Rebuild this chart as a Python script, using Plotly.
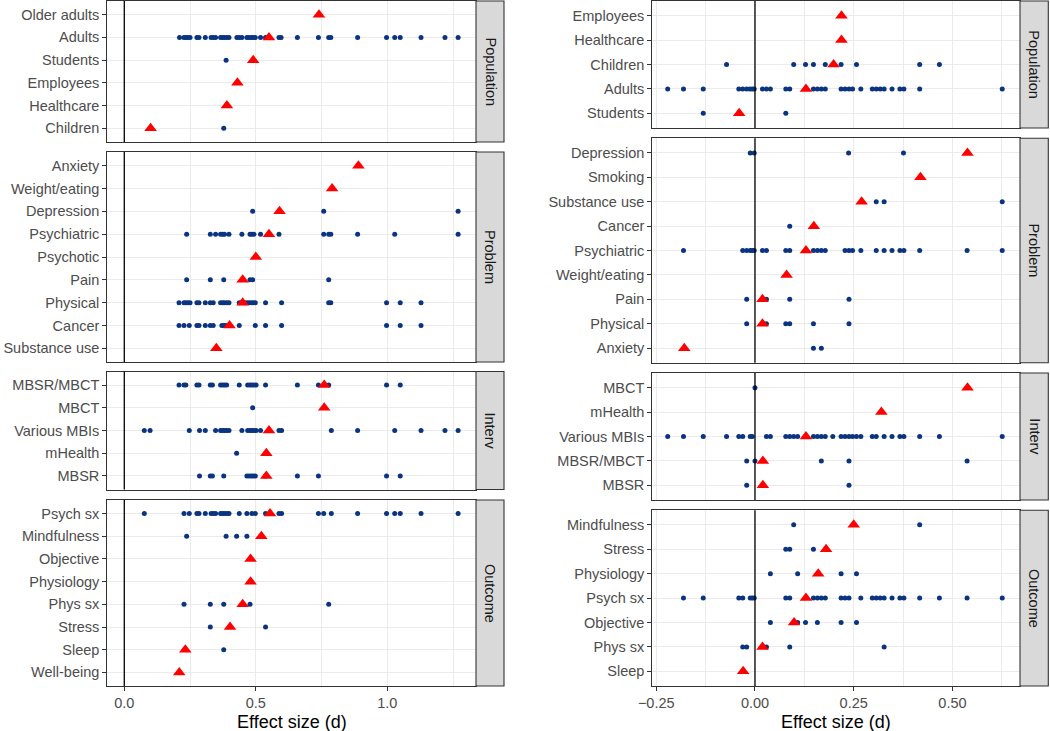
import plotly.graph_objects as go

# ---------------- DATA ----------------
# Left column (first analysis)
L_POP_CATS = ["Older adults", "Adults", "Students", "Employees", "Healthcare", "Children"]
L_POP_TRI = [0.74, 0.55, 0.49, 0.43, 0.39, 0.10]
L_POP_DOTS = {
    "Adults": [0.21, 0.227, 0.234, 0.242, 0.25, 0.276, 0.284, 0.308, 0.33, 0.338, 0.347, 0.366,
               0.374, 0.381, 0.39, 0.398, 0.428, 0.437, 0.447, 0.466, 0.474, 0.483, 0.49, 0.498,
               0.518, 0.537, 0.588, 0.596, 0.658, 0.738, 0.777, 0.785, 0.887, 0.997, 1.028, 1.049,
               1.128, 1.219, 1.269],
    "Students": [0.387],
    "Children": [0.378],
}

L_PROB_CATS = ["Anxiety", "Weight/eating", "Depression", "Psychiatric", "Psychotic", "Pain",
               "Physical", "Cancer", "Substance use"]
L_PROB_TRI = [0.89, 0.79, 0.59, 0.55, 0.50, 0.45, 0.45, 0.40, 0.35]
L_PROB_DOTS = {
    "Depression": [0.488, 0.758, 1.269],
    "Psychiatric": [0.237, 0.327, 0.347, 0.366, 0.374, 0.381, 0.398, 0.447, 0.478, 0.485, 0.493,
                    0.518, 0.588, 0.758, 0.777, 0.785, 0.887, 1.028, 1.269],
    "Pain": [0.237, 0.327, 0.378, 0.478, 0.488, 0.777],
    "Physical": [0.208, 0.227, 0.234, 0.242, 0.25, 0.276, 0.284, 0.308, 0.327, 0.338, 0.366, 0.374,
                 0.381, 0.39, 0.398, 0.437, 0.447, 0.456, 0.466, 0.474, 0.483, 0.49, 0.498, 0.537,
                 0.598, 0.777, 0.785, 0.997, 1.049, 1.128],
    "Cancer": [0.208, 0.227, 0.247, 0.276, 0.284, 0.308, 0.327, 0.338, 0.371, 0.379, 0.387, 0.437,
               0.498, 0.537, 0.598, 0.997, 1.049, 1.128],
}

L_INT_CATS = ["MBSR/MBCT", "MBCT", "Various MBIs", "mHealth", "MBSR"]
L_INT_TRI = [0.76, 0.76, 0.55, 0.54, 0.54]
L_INT_DOTS = {
    "MBSR/MBCT": [0.208, 0.227, 0.234, 0.276, 0.284, 0.327, 0.335, 0.366, 0.374, 0.381, 0.389,
                  0.437, 0.469, 0.478, 0.485, 0.493, 0.501, 0.537, 0.658, 0.738, 0.777, 0.997, 1.049],
    "MBCT": [0.488],
    "Various MBIs": [0.076, 0.098, 0.247, 0.286, 0.308, 0.347, 0.366, 0.374, 0.381, 0.389, 0.398,
                     0.447, 0.469, 0.478, 0.485, 0.493, 0.501, 0.518, 0.588, 0.598, 0.787, 0.887,
                     1.028, 1.128, 1.219, 1.269],
    "mHealth": [0.427],
    "MBSR": [0.286, 0.327, 0.335, 0.378, 0.466, 0.474, 0.483, 0.49, 0.498, 0.537, 0.658, 0.738,
             0.997, 1.049],
}

L_OUT_CATS = ["Psych sx", "Mindfulness", "Objective", "Physiology", "Phys sx", "Stress", "Sleep",
              "Well-being"]
L_OUT_TRI = [0.554, 0.521, 0.48, 0.48, 0.45, 0.402, 0.232, 0.209]
L_OUT_DOTS = {
    "Psych sx": [0.076, 0.227, 0.247, 0.276, 0.284, 0.308, 0.33, 0.338, 0.347, 0.366, 0.374, 0.381,
                 0.39, 0.398, 0.437, 0.466, 0.485, 0.498, 0.537, 0.588, 0.598, 0.738, 0.758, 0.787,
                 0.887, 0.997, 1.028, 1.049, 1.128, 1.269],
    "Mindfulness": [0.237, 0.387, 0.427, 0.466],
    "Phys sx": [0.227, 0.327, 0.378, 0.478, 0.777],
    "Stress": [0.327, 0.537],
    "Sleep": [0.378],
}

# Right column (second analysis)
R_POP_CATS = ["Employees", "Healthcare", "Children", "Adults", "Students"]
R_POP_TRI = [0.219, 0.219, 0.199, 0.129, -0.040]
R_POP_DOTS = {
    "Children": [-0.072, 0.098, 0.128, 0.148, 0.178, 0.218, 0.257, 0.417, 0.467],
    "Adults": [-0.221, -0.181, -0.131, -0.041, -0.031, -0.021, -0.013, -0.007, -0.002, 0.019, 0.029,
               0.039, 0.078, 0.088, 0.148, 0.158, 0.168, 0.178, 0.218, 0.228, 0.238, 0.247, 0.268,
               0.297, 0.307, 0.317, 0.327, 0.347, 0.367, 0.377, 0.417, 0.626],
    "Students": [-0.131, 0.078],
}

R_PROB_CATS = ["Depression", "Smoking", "Substance use", "Cancer", "Psychiatric", "Weight/eating",
               "Pain", "Physical", "Anxiety"]
R_PROB_TRI = [0.538, 0.419, 0.270, 0.149, 0.129, 0.080, 0.019, 0.019, -0.179]
R_PROB_DOTS = {
    "Depression": [-0.012, -0.002, 0.237, 0.376],
    "Substance use": [0.307, 0.327, 0.626],
    "Cancer": [0.088],
    "Psychiatric": [-0.181, -0.031, -0.021, -0.012, -0.007, -0.002, 0.019, 0.029, 0.078, 0.088,
                    0.148, 0.158, 0.168, 0.178, 0.228, 0.238, 0.247, 0.268, 0.307, 0.327, 0.347,
                    0.367, 0.377, 0.417, 0.537, 0.626],
    "Pain": [-0.021, 0.029, 0.088, 0.238],
    "Physical": [-0.021, 0.029, 0.078, 0.088, 0.148, 0.238],
    "Anxiety": [0.148, 0.168],
}

R_INT_CATS = ["MBCT", "mHealth", "Various MBIs", "MBSR/MBCT", "MBSR"]
R_INT_TRI = [0.538, 0.320, 0.129, 0.020, 0.020]
R_INT_DOTS = {
    "MBCT": [0.0],
    "Various MBIs": [-0.221, -0.181, -0.131, -0.072, -0.041, -0.031, -0.012, -0.007, 0.029, 0.039,
                     0.078, 0.088, 0.098, 0.108, 0.148, 0.158, 0.168, 0.178, 0.197, 0.218, 0.228,
                     0.238, 0.247, 0.257, 0.268, 0.297, 0.307, 0.327, 0.347, 0.367, 0.377, 0.417,
                     0.467, 0.626],
    "MBSR/MBCT": [-0.021, 0.0, 0.168, 0.238, 0.537],
    "MBSR": [-0.021, 0.238],
}

R_OUT_CATS = ["Mindfulness", "Stress", "Physiology", "Psych sx", "Objective", "Phys sx", "Sleep"]
R_OUT_TRI = [0.250, 0.180, 0.160, 0.129, 0.099, 0.019, -0.030]
R_OUT_DOTS = {
    "Mindfulness": [0.098, 0.417],
    "Stress": [0.078, 0.088, 0.148],
    "Physiology": [0.039, 0.108, 0.218, 0.257],
    "Psych sx": [-0.181, -0.131, -0.041, -0.031, -0.012, -0.007, -0.002, 0.078, 0.088, 0.148, 0.158,
                 0.168, 0.178, 0.218, 0.228, 0.238, 0.268, 0.297, 0.307, 0.317, 0.327, 0.347, 0.367,
                 0.377, 0.417, 0.467, 0.537, 0.626],
    "Objective": [0.039, 0.108, 0.128, 0.158, 0.218, 0.257],
    "Phys sx": [-0.031, -0.021, 0.029, 0.088, 0.327],
}

STRIP_LABELS = ["Population", "Problem", "Interv", "Outcome"]
L_TICKVALS = [0.0, 0.5, 1.0]
L_TICKTEXT = ["0.0", "0.5", "1.0"]
R_TICKVALS = [-0.25, 0.0, 0.25, 0.5]
R_TICKTEXT = ["\u22120.25", "0.00", "0.25", "0.50"]
X_TITLE = "Effect size (d)"

# ---------------- LAYOUT GEOMETRY ----------------
W, H = 1050, 731
FONT = "Liberation Sans, Arial, Helvetica, sans-serif"
TICK_SIZE = 14.5
DOT_COLOR = "#0B3480"
TRI_COLOR = "#FF0000"
BORDER = "#333333"
GRID = "#EBEBEB"


def fx(px):
    return px / W


def fy(py):
    return 1 - py / H


LEFT = dict(x0=107.3, x1=476.0, s0=476.0, s1=504.0, rng=[-0.0646, 1.337],
            tv=L_TICKVALS, tt=L_TICKTEXT, dtick=0.5, tick0=0,
            rows=[(1, 142), (152, 362), (371.5, 489.5), (500, 686)])
RIGHT = dict(x0=652.3, x1=1020.0, s0=1020.0, s1=1048.3, rng=[-0.26, 0.671],
             tv=R_TICKVALS, tt=R_TICKTEXT, dtick=0.25, tick0=0,
             rows=[(1, 128), (138.3, 362.8), (373, 500), (510.2, 686)])

panels = [
    (LEFT, 0, L_POP_CATS, L_POP_TRI, L_POP_DOTS),
    (LEFT, 1, L_PROB_CATS, L_PROB_TRI, L_PROB_DOTS),
    (LEFT, 2, L_INT_CATS, L_INT_TRI, L_INT_DOTS),
    (LEFT, 3, L_OUT_CATS, L_OUT_TRI, L_OUT_DOTS),
    (RIGHT, 0, R_POP_CATS, R_POP_TRI, R_POP_DOTS),
    (RIGHT, 1, R_PROB_CATS, R_PROB_TRI, R_PROB_DOTS),
    (RIGHT, 2, R_INT_CATS, R_INT_TRI, R_INT_DOTS),
    (RIGHT, 3, R_OUT_CATS, R_OUT_TRI, R_OUT_DOTS),
]

fig = go.Figure()
layout = dict(
    width=W, height=H, autosize=False, margin=dict(l=0, r=0, t=0, b=0, pad=0),
    paper_bgcolor="white", plot_bgcolor="white", showlegend=False,
    font=dict(family=FONT, size=TICK_SIZE, color="#4D4D4D"),
    shapes=[], annotations=[],
)

for i, (side, r, cats, tri, dots) in enumerate(panels, start=1):
    xa = "x" if i == 1 else f"x{i}"
    ya = "y" if i == 1 else f"y{i}"
    xkey = "xaxis" if i == 1 else f"xaxis{i}"
    ykey = "yaxis" if i == 1 else f"yaxis{i}"
    top, bot = side["rows"][r]
    is_bottom = (r == 3)

    # dots
    dx, dy = [], []
    for c in cats:
        for v in dots.get(c, []):
            dx.append(v)
            dy.append(c)
    fig.add_trace(go.Scatter(x=dx, y=dy, mode="markers", xaxis=xa, yaxis=ya,
                             marker=dict(color=DOT_COLOR, size=5, line=dict(width=0)),
                             hoverinfo="x+y"))
    # triangles (summary effect)
    fig.add_trace(go.Scatter(x=tri, y=cats, mode="markers", xaxis=xa, yaxis=ya,
                             marker=dict(color=TRI_COLOR, size=11, symbol="triangle-up",
                                         line=dict(width=0)),
                             hoverinfo="x+y"))

    n = len(cats)
    layout[xkey] = dict(
        domain=[fx(side["x0"]), fx(side["x1"])], anchor=ya, range=side["rng"],
        showgrid=True, gridcolor=GRID, gridwidth=1.1, zeroline=False,
        tickvals=side["tv"], ticktext=side["tt"],
        showticklabels=is_bottom, ticks="outside" if is_bottom else "",
        ticklen=4, tickwidth=1, tickcolor=BORDER,
        tickfont=dict(family=FONT, size=TICK_SIZE, color="#4D4D4D"),
        minor=dict(showgrid=True, gridcolor=GRID, gridwidth=0.55,
                   tick0=side["tick0"] + side["dtick"] / 2, dtick=side["dtick"]),
        showline=True, mirror=True, linecolor=BORDER, linewidth=1.1,
        fixedrange=True, automargin=False,
    )
    layout[ykey] = dict(
        domain=[fy(bot), fy(top)], anchor=xa, type="category",
        categoryorder="array", categoryarray=list(reversed(cats)),
        range=[-0.6, n - 0.4],
        showgrid=True, gridcolor=GRID, gridwidth=1.1, zeroline=False,
        ticks="outside", ticklen=4, tickwidth=1, tickcolor=BORDER,
        tickfont=dict(family=FONT, size=TICK_SIZE, color="#4D4D4D"),
        showline=True, mirror=True, linecolor=BORDER, linewidth=1.1,
        fixedrange=True, automargin=False,
    )

    # vertical reference line at zero
    layout["shapes"].append(dict(type="line", xref=xa, yref=f"{ya} domain", x0=0, x1=0,
                                 y0=0, y1=1, line=dict(color="black", width=1.3),
                                 layer="above"))
    # facet strip
    layout["shapes"].append(dict(type="rect", xref="paper", yref="paper",
                                 x0=fx(side["s0"]), x1=fx(side["s1"]), y0=fy(bot), y1=fy(top),
                                 fillcolor="#D9D9D9", line=dict(color=BORDER, width=1.1),
                                 layer="above"))
    layout["annotations"].append(dict(text=STRIP_LABELS[r], xref="paper", yref="paper",
                                      x=fx((side["s0"] + side["s1"]) / 2), y=fy((top + bot) / 2),
                                      xanchor="center", yanchor="middle", showarrow=False,
                                      textangle=90,
                                      font=dict(family=FONT, size=14.5, color="#1A1A1A")))
    if is_bottom:
        layout["annotations"].append(dict(text=X_TITLE, xref="paper", yref="paper",
                                          x=fx((side["x0"] + side["x1"]) / 2), y=fy(722),
                                          xanchor="center", yanchor="middle", showarrow=False,
                                          font=dict(family=FONT, size=18, color="black")))

fig.update_layout(**layout)
fig.write_html(
    "out.html", include_plotlyjs=True, full_html=True,
    config={"displayModeBar": False},
    post_script=("document.body.style.margin='0';"
                 "document.documentElement.style.overflow='hidden';"),
)
